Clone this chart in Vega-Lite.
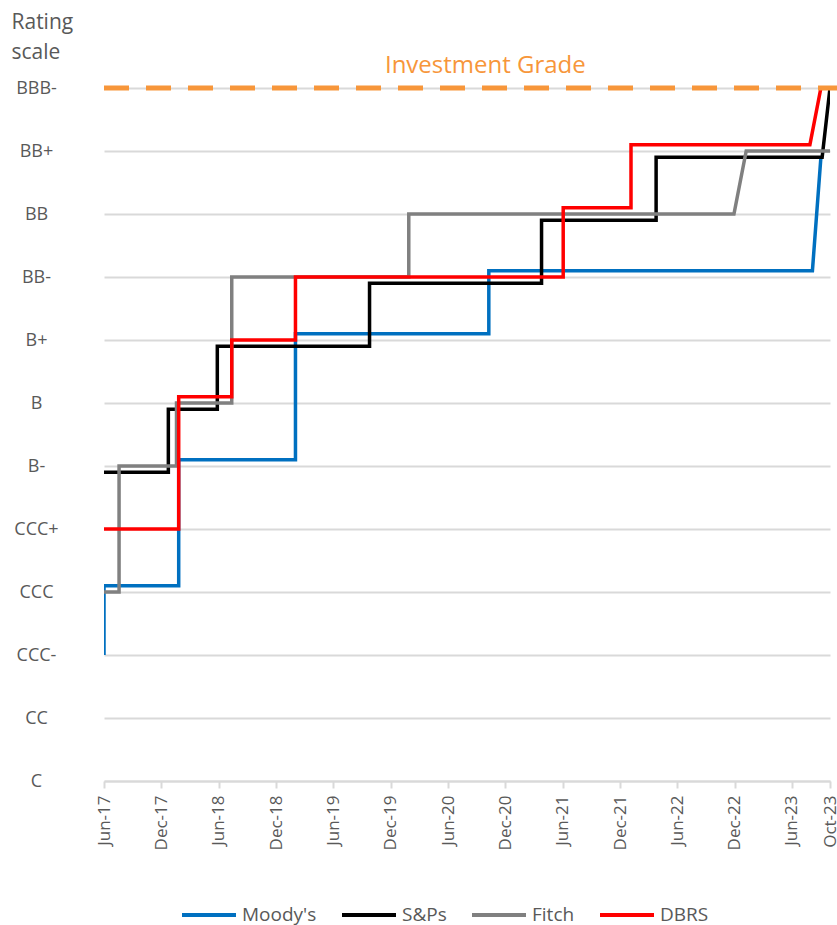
{
  "$schema": "https://vega.github.io/schema/vega-lite/v6.json",
  "width": 726,
  "height": 693,
  "autosize": {"type": "none"},
  "padding": {"left": 104, "top": 88, "right": 7, "bottom": 144},
  "background": "white",
  "config": {
    "font": "Open Sans",
    "view": {"stroke": null}
  },
  "datasets": {
    "ratings": [
      {"agency": "Moody's", "i": 0, "date": "2017-06-01", "value": 2.0},
      {"agency": "Moody's", "i": 1, "date": "2017-06-01", "value": 3.1},
      {"agency": "Moody's", "i": 2, "date": "2018-01-25", "value": 3.1},
      {"agency": "Moody's", "i": 3, "date": "2018-01-25", "value": 5.1},
      {"agency": "Moody's", "i": 4, "date": "2019-02-01", "value": 5.1},
      {"agency": "Moody's", "i": 5, "date": "2019-02-01", "value": 7.1},
      {"agency": "Moody's", "i": 6, "date": "2020-10-09", "value": 7.1},
      {"agency": "Moody's", "i": 7, "date": "2020-10-09", "value": 8.1},
      {"agency": "Moody's", "i": 8, "date": "2023-08-06", "value": 8.1},
      {"agency": "Moody's", "i": 9, "date": "2023-09-02", "value": 9.9},

      {"agency": "S&Ps", "i": 0, "date": "2017-06-01", "value": 4.9},
      {"agency": "S&Ps", "i": 1, "date": "2017-12-23", "value": 4.9},
      {"agency": "S&Ps", "i": 2, "date": "2017-12-23", "value": 5.9},
      {"agency": "S&Ps", "i": 3, "date": "2018-05-28", "value": 5.9},
      {"agency": "S&Ps", "i": 4, "date": "2018-05-28", "value": 6.9},
      {"agency": "S&Ps", "i": 5, "date": "2019-09-25", "value": 6.9},
      {"agency": "S&Ps", "i": 6, "date": "2019-09-25", "value": 7.9},
      {"agency": "S&Ps", "i": 7, "date": "2021-03-26", "value": 7.9},
      {"agency": "S&Ps", "i": 8, "date": "2021-03-26", "value": 8.9},
      {"agency": "S&Ps", "i": 9, "date": "2022-03-26", "value": 8.9},
      {"agency": "S&Ps", "i": 10, "date": "2022-03-26", "value": 9.9},
      {"agency": "S&Ps", "i": 11, "date": "2023-09-06", "value": 9.9},
      {"agency": "S&Ps", "i": 12, "date": "2023-10-01", "value": 11.0},

      {"agency": "Fitch", "i": 0, "date": "2017-06-01", "value": 3.0},
      {"agency": "Fitch", "i": 1, "date": "2017-07-19", "value": 3.0},
      {"agency": "Fitch", "i": 2, "date": "2017-07-19", "value": 5.0},
      {"agency": "Fitch", "i": 3, "date": "2018-01-18", "value": 5.0},
      {"agency": "Fitch", "i": 4, "date": "2018-01-18", "value": 6.0},
      {"agency": "Fitch", "i": 5, "date": "2018-07-13", "value": 6.0},
      {"agency": "Fitch", "i": 6, "date": "2018-07-13", "value": 8.0},
      {"agency": "Fitch", "i": 7, "date": "2020-01-28", "value": 8.0},
      {"agency": "Fitch", "i": 8, "date": "2020-01-28", "value": 9.0},
      {"agency": "Fitch", "i": 9, "date": "2022-11-29", "value": 9.0},
      {"agency": "Fitch", "i": 10, "date": "2023-01-07", "value": 10.0},
      {"agency": "Fitch", "i": 11, "date": "2023-10-01", "value": 10.0},

      {"agency": "DBRS", "i": 0, "date": "2017-06-01", "value": 4.0},
      {"agency": "DBRS", "i": 1, "date": "2018-01-25", "value": 4.0},
      {"agency": "DBRS", "i": 2, "date": "2018-01-25", "value": 6.1},
      {"agency": "DBRS", "i": 3, "date": "2018-07-13", "value": 6.1},
      {"agency": "DBRS", "i": 4, "date": "2018-07-13", "value": 7.0},
      {"agency": "DBRS", "i": 5, "date": "2019-02-01", "value": 7.0},
      {"agency": "DBRS", "i": 6, "date": "2019-02-01", "value": 8.0},
      {"agency": "DBRS", "i": 7, "date": "2021-06-03", "value": 8.0},
      {"agency": "DBRS", "i": 8, "date": "2021-06-03", "value": 9.1},
      {"agency": "DBRS", "i": 9, "date": "2022-01-05", "value": 9.1},
      {"agency": "DBRS", "i": 10, "date": "2022-01-05", "value": 10.1},
      {"agency": "DBRS", "i": 11, "date": "2023-07-29", "value": 10.1},
      {"agency": "DBRS", "i": 12, "date": "2023-09-02", "value": 11.0},
      {"agency": "DBRS", "i": 13, "date": "2023-10-01", "value": 11.0}
    ],
    "threshold": [
      {"start": "2017-06-01", "end": "2023-11-01", "value": 11, "labelDate": "2020-09-28", "label": "Investment Grade"}
    ]
  },
  "layer": [
    {
      "data": {"name": "ratings"},
      "mark": {"type": "line", "strokeWidth": 3.5, "clip": true, "strokeJoin": "miter", "strokeCap": "butt"},
      "encoding": {
        "x": {
          "field": "date", "type": "temporal",
          "scale": {"domain": ["2017-06-01", "2023-10-01"]},
          "axis": {
            "title": null,
            "values": ["2017-06-01", "2017-12-01", "2018-06-01", "2018-12-01", "2019-06-01", "2019-12-01", "2020-06-01", "2020-12-01", "2021-06-01", "2021-12-01", "2022-06-01", "2022-12-01", "2023-06-01", "2023-10-01"],
            "format": "%b-%y",
            "labelAngle": 270,
            "labelFontSize": 17,
            "labelColor": "#595959",
            "labelPadding": 7,
            "labelOverlap": false,
            "labelBound": false,
            "labelFlush": false,
            "grid": false,
            "domainColor": "#d9d9d9",
            "domainWidth": 2,
            "tickColor": "#d9d9d9",
            "tickWidth": 2,
            "tickSize": 7
          }
        },
        "y": {
          "field": "value", "type": "quantitative",
          "scale": {"domain": [0, 11], "nice": false, "zero": false},
          "axis": {
            "title": ["Rating", "scale"],
            "titleAngle": 0,
            "titleAlign": "left",
            "titleBaseline": "alphabetic",
            "titleX": -93,
            "titleY": -60,
            "titleFontSize": 21,
            "titleFontWeight": "normal",
            "titleColor": "#595959",
            "titleLineHeight": 30,
            "values": [0, 1, 2, 3, 4, 5, 6, 7, 8, 9, 10, 11],
            "labelExpr": "['C','CC','CCC-','CCC','CCC+','B-','B','B+','BB-','BB','BB+','BBB-'][datum.value]",
            "labelAlign": "center",
            "labelBaseline": "middle",
            "labelPadding": 68,
            "labelFontSize": 18,
            "labelColor": "#595959",
            "ticks": false,
            "tickSize": 0,
            "domain": false,
            "grid": true,
            "gridColor": "#d9d9d9",
            "gridWidth": 2
          }
        },
        "order": {"field": "i", "type": "quantitative"},
        "color": {
          "field": "agency", "type": "nominal",
          "scale": {"domain": ["Moody's", "S&Ps", "Fitch", "DBRS"], "range": ["#0070C0", "#000000", "#808080", "#FF0000"]},
          "legend": {
            "title": null,
            "orient": "none",
            "legendX": 76,
            "legendY": 798,
            "padding": 0,
            "direction": "horizontal",
            "symbolType": "stroke",
            "symbolSize": 2916,
            "symbolStrokeWidth": 4,
            "labelFontSize": 19,
            "labelColor": "#595959",
            "labelOffset": 4,
            "columnPadding": 17,
            "labelLimit": 200
          }
        }
      }
    },
    {
      "data": {"name": "threshold"},
      "mark": {"type": "rule", "color": "#F7963A", "strokeWidth": 5, "strokeDash": [25, 17], "clip": false},
      "encoding": {
        "x": {"field": "start", "type": "temporal"},
        "x2": {"field": "end"},
        "y": {"field": "value", "type": "quantitative"}
      }
    },
    {
      "data": {"name": "threshold"},
      "mark": {"type": "text", "color": "#F7963A", "fontSize": 24, "align": "center", "baseline": "alphabetic", "dy": -15},
      "encoding": {
        "x": {"field": "labelDate", "type": "temporal"},
        "y": {"field": "value", "type": "quantitative"},
        "text": {"field": "label"}
      }
    }
  ]
}
